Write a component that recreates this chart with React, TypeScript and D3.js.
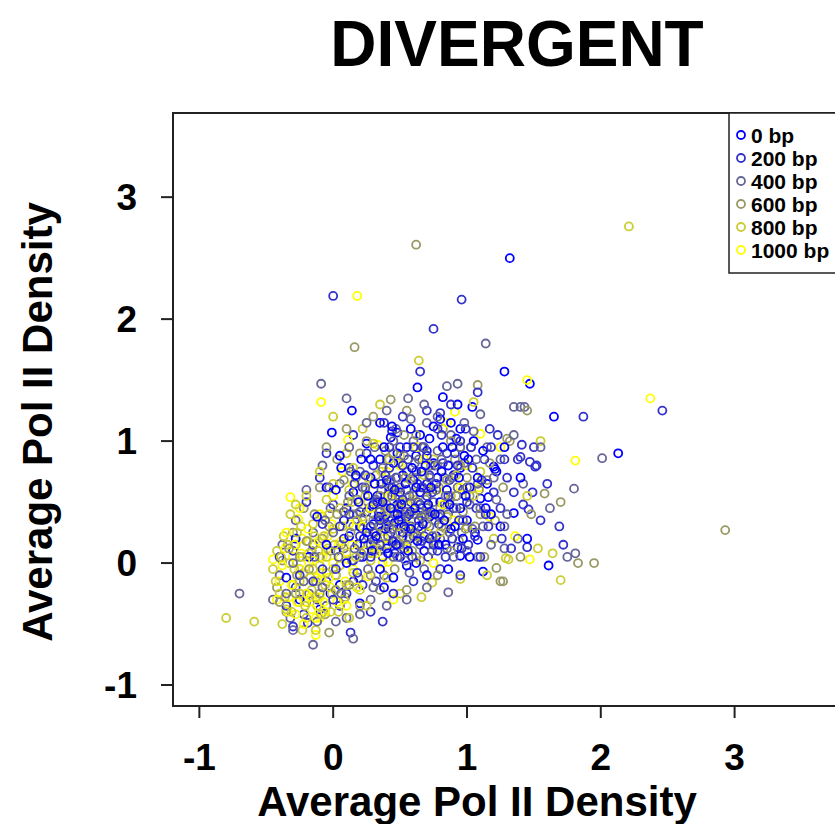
import React from "react";
import * as d3 from "d3";

const seriesLabels = ["0 bp", "200 bp", "400 bp", "600 bp", "800 bp", "1000 bp"];
const seriesColors = ["#0000FF", "#3333CC", "#666699", "#999966", "#CCCC33", "#FFFF00"];
const xTicks = [-1, 0, 1, 2, 3];
const yTicks = [-1, 0, 1, 2, 3];

const bp0: [number, number][] = [
  [1.32,2.50],[1.28,1.57],[1.47,1.47],[1.65,1.20],[0.14,1.25],[-0.01,1.07],[2.13,0.90],[0.63,1.44],[0.82,1.36],[0.93,1.30],
  [1.04,1.28],[0.43,1.03],[0.48,1.07],[1.21,0.77],[1.35,0.41],[1.61,-0.02],[1.12,-0.07],[0.95,0.78],[1.20,0.79],[1.22,0.75],
  [0.85,0.38],[1.06,0.25],[1.08,0.19],[0.93,0.13],[0.95,0.06],[1.16,0.54],[1.10,0.53],[0.35,1.15],[0.25,0.98],[0.05,0.88],
  [-0.05,0.62],[0.10,0.45],[-0.02,-0.25],[-0.10,-0.38],[0.05,-0.18],[-0.25,-0.30],[-0.35,-0.12],[0.20,-0.33],[0.15,-0.15],[-0.18,0.05],
  [-0.28,0.20],[0.02,0.10],[0.20,0.30],[0.25,0.42],[0.30,0.18],[0.33,0.55],[0.38,0.36],[0.40,0.12],[0.42,0.62],[0.45,0.28],
  [0.48,0.48],[0.50,0.05],[0.52,0.72],[0.55,0.38],[0.57,0.20],[0.60,0.55],[0.62,0.88],[0.64,0.30],[0.66,0.45],[0.68,0.10],
  [0.70,0.65],[0.72,0.38],[0.75,0.82],[0.77,0.22],[0.80,0.50],[0.82,0.95],[0.85,0.60],[0.88,0.28],[0.90,0.72],[0.92,1.02],
  [0.95,0.45],[0.98,0.88],[1.00,0.35],[1.02,0.62],[0.28,0.70],[0.35,0.85],[0.15,0.58],[0.18,0.15],[0.22,0.05],[0.35,-0.05],
  [0.45,-0.12],[0.55,-0.02],[0.62,0.00],[0.30,0.32],[0.40,0.40],[0.46,0.33],[0.52,0.25],[0.58,0.42],[0.36,0.26],[0.44,0.18],
  [0.50,0.58],[0.60,0.68],[0.70,0.92],[0.78,0.70],[0.86,0.80],[0.65,1.05],[0.55,0.95],[0.45,0.82],[0.75,1.12],[0.88,1.15],
  [1.05,1.00],[1.12,0.92],[1.15,0.65],[1.18,0.40],[1.25,0.30],[1.28,0.95],[1.40,0.70],[1.45,0.20],[0.25,0.25],[0.12,0.22],
  [0.08,0.35],[0.30,0.48],[0.40,0.68],[0.48,0.90],[0.66,0.75],[0.72,0.20],[0.84,0.15],[0.92,0.55],
  [0.32,0.22],[0.34,0.38],[0.37,0.50],[0.39,0.28],[0.41,0.08],[0.43,0.45],[0.46,0.60],[0.47,0.15],[0.49,0.35],[0.51,0.48],
  [0.53,0.30],[0.54,0.65],[0.56,0.10],[0.58,0.28],[0.59,0.78],[0.61,0.45],[0.63,0.18],[0.65,0.58],[0.67,0.32],[0.69,0.80],
  [0.71,0.48],[0.73,0.62],[0.76,0.40],[0.79,0.15],[0.81,0.75],[0.83,0.35],[0.87,0.48],[0.89,0.95],[0.91,0.30],[0.94,0.70],
  [0.97,0.20],[0.99,0.55],[1.01,0.85],[0.26,0.55],[0.29,0.10],[0.31,0.65],[0.23,0.20],[0.19,0.50],[0.17,0.72],[0.21,0.85],
  [0.38,0.95],[0.44,1.12],[0.58,1.10],[0.72,1.02],[0.80,1.18],[0.95,1.10],[1.08,0.70],[1.14,0.45],[1.02,0.05],[0.86,-0.05],
  [0.70,-0.10],[0.38,-0.20],[0.10,0.00],[-0.05,0.15],[-0.12,0.38],[0.02,0.60],[0.06,0.78],[0.28,0.85],[0.48,0.40],[0.62,0.62]
];

const bp200: [number, number][] = [
  [0.00,2.19],[0.96,2.16],[0.75,1.92],[0.65,1.57],[0.80,1.23],[0.44,1.08],[1.87,1.20],[2.46,1.25],[1.17,1.10],[1.41,0.97],
  [1.50,0.95],[1.38,0.85],[1.47,0.83],[1.52,0.80],[1.42,0.48],[1.46,0.44],[1.69,0.30],[1.45,0.13],[1.35,0.58],[1.49,0.58],
  [1.40,0.87],[1.51,0.79],[0.13,-0.57],[0.37,-0.48],[-0.30,-0.52],[-0.19,-0.49],[0.15,1.05],[-0.05,0.90],[0.12,0.78],
  [-0.35,-0.35],[-0.28,-0.20],[-0.22,-0.42],[-0.12,-0.30],[-0.05,-0.15],[0.05,-0.35],[0.10,-0.25],[0.22,-0.18],[0.28,-0.40],
  [-0.40,0.05],[-0.30,0.10],[-0.15,0.15],[-0.08,0.32],[0.00,0.48],[-0.20,0.50],[-0.10,0.70],
  [0.18,0.40],[0.22,0.62],[0.26,0.15],[0.30,0.80],[0.34,0.42],[0.37,0.05],[0.41,0.55],[0.43,0.25],[0.47,0.70],[0.50,0.38],
  [0.53,0.12],[0.56,0.85],[0.58,0.50],[0.61,0.25],[0.63,0.65],[0.67,0.95],[0.69,0.40],[0.71,0.05],[0.74,0.58],[0.76,0.80],
  [0.79,0.32],[0.81,1.05],[0.83,0.48],[0.87,0.68],[0.89,0.20],[0.91,0.90],[0.94,0.35],[0.97,0.60],[0.99,1.10],[1.01,0.15],
  [1.04,0.78],[1.07,0.45],[1.10,0.05],[1.13,0.85],[1.16,0.30],[1.20,0.58],[1.23,1.05],[1.26,0.20],[1.30,0.70],[1.33,0.12],
  [0.95,-0.10],[0.80,-0.05],[0.60,-0.15],[0.45,-0.25],[0.32,-0.15],[0.15,0.02],[0.08,0.20],[0.25,0.90],[0.38,1.15],[0.52,1.20],
  [0.70,1.25],[0.88,1.30],[1.08,1.40],[0.20,0.05],[0.28,0.30],[0.36,0.65],[0.48,0.15],[0.55,0.60],[0.64,0.35],[0.72,0.72],
  [0.85,0.90],[0.78,0.10],[0.66,0.18],[0.50,0.95],[0.42,0.78],[1.55,0.35],[1.60,0.65],[1.72,0.15],
  [0.30,0.25],[0.33,0.50],[0.35,0.15],[0.39,0.72],[0.40,0.32],[0.44,0.62],[0.46,0.08],[0.49,0.45],[0.52,0.80],[0.54,0.28],
  [0.57,0.40],[0.59,0.05],[0.62,0.75],[0.65,0.48],[0.68,0.22],[0.70,0.88],[0.73,0.42],[0.75,0.15],[0.77,0.65],[0.80,0.40],
  [0.82,0.82],[0.84,0.05],[0.86,0.55],[0.90,0.45],[0.93,0.80],[0.96,0.12],[1.00,0.50],[1.03,0.95],[1.06,0.22],[1.11,0.68],
  [1.14,0.40],[1.18,0.95],[0.24,0.72],[0.20,0.22],[0.16,0.65],[0.12,0.40],[0.05,0.30],[0.02,-0.05],[-0.08,-0.05],[-0.15,-0.15],
  [-0.25,-0.10],[0.00,-0.30],[0.18,-0.08],[0.28,0.05],[0.42,0.95],[0.60,0.95],[0.78,1.10],[0.95,1.00],[1.25,0.45],[1.28,0.85],
  [0.35,0.35],[0.52,0.52],[0.66,0.62],[0.45,0.18],[0.70,0.55]
];

const bp400: [number, number][] = [
  [1.14,1.80],[-0.09,1.47],[1.28,0.12],[0.86,-0.24],[1.81,0.08],[1.08,0.05],[1.35,1.28],[1.40,1.28],[1.43,1.28],[0.93,1.47],
  [0.85,1.45],[-0.70,-0.25],[-0.15,-0.67],[1.80,0.61],[2.01,0.86],
  [-0.45,-0.30],[-0.40,-0.10],[-0.38,0.15],[-0.32,-0.45],[-0.28,0.35],[-0.25,-0.05],[-0.20,0.60],[-0.18,-0.25],[-0.15,0.25],
  [-0.12,-0.48],[-0.10,0.05],[-0.08,0.80],[-0.05,-0.35],[-0.02,0.45],[0.02,-0.10],[0.05,0.65],[0.08,0.12],[0.10,-0.45],
  [0.12,0.95],[0.15,0.30],[0.18,-0.20],[0.20,0.75],[0.23,0.10],[0.26,0.50],[0.28,-0.30],[0.31,0.95],[0.33,0.20],[0.36,0.60],
  [0.38,-0.10],[0.40,0.85],[0.42,0.35],[0.45,0.05],[0.47,1.10],[0.50,0.50],[0.52,0.22],[0.55,0.75],[0.57,-0.08],[0.60,1.00],
  [0.62,0.40],[0.65,0.15],[0.67,0.62],[0.70,1.15],[0.72,0.30],[0.75,0.50],[0.78,0.92],[0.80,0.20],[0.83,0.70],[0.86,0.40],
  [0.88,1.05],[0.90,0.05],[0.93,0.62],[0.96,0.25],[0.98,0.82],[1.02,0.48],[1.05,1.08],[1.08,0.65],[1.12,0.30],[1.15,0.95],
  [1.18,0.15],[1.22,0.52],[1.25,0.85],[1.30,0.40],[1.35,1.05],[1.38,0.20],[1.42,0.65],[1.55,0.95],[1.62,0.45],[1.75,0.05],
  [0.30,0.40],[0.44,0.55],[0.58,0.30],[0.64,0.85],[0.48,0.70],[0.35,0.10],[0.22,0.35],[0.12,0.55],[0.00,0.25],[0.26,-0.05],
  [0.54,0.02],[0.68,-0.05],[0.74,0.10],[0.85,0.12],[1.00,0.10],[0.40,1.25],[0.25,1.15],[0.10,1.35],[0.68,1.30],[0.56,1.35],
  [1.10,1.22],[0.02,-0.48],[0.20,-0.42],[-0.30,-0.55],[0.40,-0.35],[0.55,-0.30],[0.70,-0.20],[0.15,-0.62],
  [0.28,0.15],[0.32,0.52],[0.34,0.30],[0.37,0.78],[0.39,0.45],[0.41,0.22],[0.43,0.68],[0.46,0.40],[0.48,0.05],[0.50,0.62],
  [0.51,0.35],[0.53,0.88],[0.55,0.15],[0.57,0.55],[0.60,0.22],[0.61,0.82],[0.63,0.50],[0.66,0.28],[0.68,0.95],[0.70,0.45],
  [0.72,0.70],[0.74,0.22],[0.77,0.60],[0.79,0.38],[0.81,0.85],[0.84,0.55],[0.87,0.25],[0.89,0.70],[0.92,0.45],[0.95,0.95],
  [0.97,0.35],[1.00,0.62],[1.04,0.28],[1.07,0.85],[1.10,0.45],[1.20,0.70],[1.28,0.30],[0.24,0.62],[0.20,0.42],[0.16,0.12],
  [0.13,0.75],[0.08,0.42],[0.04,0.05],[-0.03,0.62],[-0.06,0.35],[-0.14,0.05],[-0.22,-0.15],[-0.30,0.00],[-0.35,-0.25],[-0.08,-0.20],
  [0.06,-0.25],[0.30,-0.20],[0.45,1.00],[0.58,1.18],[0.78,1.20],[0.98,1.15],[0.35,0.42],[0.55,0.42],[0.66,0.38],[0.44,0.28]
];

const bp600: [number, number][] = [
  [0.62,2.61],[0.16,1.77],[1.08,1.46],[1.30,1.02],[1.58,0.57],[1.83,0.00],[1.95,0.00],[1.25,-0.15],[1.27,-0.15],[1.22,-0.04],
  [2.93,0.27],[-0.03,-0.57],
  [-0.42,-0.20],[-0.38,0.02],[-0.35,-0.40],[-0.30,0.25],[-0.27,-0.10],[-0.22,0.45],[-0.20,-0.32],[-0.16,0.10],[-0.13,-0.15],
  [-0.10,0.62],[-0.06,-0.42],[-0.03,0.30],[0.00,-0.05],[0.03,0.85],[0.06,0.15],[0.09,-0.28],[0.11,0.50],[0.14,0.02],[0.17,0.70],
  [0.19,-0.12],[0.22,0.28],[0.25,1.00],[0.27,0.45],[0.29,0.08],[0.32,0.72],[0.35,-0.22],[0.37,0.38],[0.39,0.92],[0.41,0.15],
  [0.44,0.58],[0.46,-0.05],[0.49,0.82],[0.51,0.30],[0.53,1.05],[0.56,0.48],[0.59,0.10],[0.61,0.70],[0.63,0.22],[0.66,0.95],
  [0.69,0.52],[0.71,0.15],[0.73,0.80],[0.76,0.35],[0.79,0.62],[0.82,1.10],[0.84,0.28],[0.87,0.52],[0.91,0.85],[0.94,0.18],
  [0.97,0.42],[1.00,0.70],[1.03,0.95],[1.06,0.30],[1.09,0.60],[1.13,0.05],[1.17,0.82],[1.21,0.35],[1.27,0.62],[1.32,1.00],
  [1.45,1.25],[1.40,0.05],[1.48,0.40],[1.70,0.50],[0.43,1.34],[0.55,1.25],[0.30,1.20],[0.10,1.10],[-0.05,0.95],[0.40,0.48],
  [0.60,0.40],[0.50,0.15],[0.70,0.32],[0.80,0.45],[0.35,0.55],[0.26,0.22],[0.15,0.40],[0.05,0.05],[-0.08,0.20],[-0.18,-0.05],
  [-0.25,0.05],[0.20,-0.35],[0.55,-0.22],[0.78,-0.10],
  [0.30,0.35],[0.33,0.12],[0.36,0.48],[0.38,0.22],[0.40,0.65],[0.42,0.30],[0.45,0.42],[0.47,0.18],[0.49,0.55],[0.52,0.40],
  [0.54,0.70],[0.57,0.28],[0.60,0.55],[0.62,0.05],[0.64,0.42],[0.67,0.75],[0.70,0.60],[0.72,0.40],[0.75,0.18],[0.78,0.80],
  [0.81,0.30],[0.85,0.68],[0.88,0.10],[0.92,0.55],[0.95,0.80],[0.99,0.28],[1.02,0.55],[1.10,0.40],[1.15,0.68],[0.24,0.60],
  [0.21,0.08],[0.18,0.52],[0.13,0.25],[0.08,0.68],[0.03,0.40],[-0.02,0.10],[-0.10,-0.25],[-0.14,0.40],[-0.20,0.18],[-0.28,-0.25],
  [-0.33,0.12],[-0.40,-0.32],[0.02,-0.22],[0.12,-0.18],[0.28,-0.10],[0.20,0.90],[0.45,0.90],[0.62,1.05],[0.88,1.00],[0.35,0.30],
  [0.50,0.25],[0.58,0.68]
];

const bp800: [number, number][] = [
  [2.21,2.76],[0.64,1.66],[1.53,0.12],[1.64,0.08],[1.70,-0.14],[1.29,0.04],[1.31,0.03],[0.95,-0.13],[0.74,-0.16],[0.66,-0.28],
  [0.50,-0.25],[-0.80,-0.45],[-0.59,-0.48],[-0.23,-0.55],[-0.13,-0.55],[0.00,1.20],[0.10,0.90],[0.22,1.10],[0.35,1.30],
  [1.55,1.00],[1.05,1.32],
  [-0.45,-0.05],[-0.42,0.10],[-0.40,-0.25],[-0.37,0.22],[-0.35,-0.38],[-0.33,0.00],[-0.30,-0.18],[-0.28,0.15],[-0.26,-0.32],
  [-0.24,0.30],[-0.22,-0.08],[-0.20,-0.45],[-0.18,0.08],[-0.16,-0.22],[-0.14,0.22],[-0.12,-0.35],[-0.10,-0.02],[-0.08,0.38],
  [-0.06,-0.18],[-0.04,0.12],[-0.02,-0.40],[0.00,0.28],[0.02,-0.10],[0.05,0.45],[0.08,-0.30],[0.10,0.08],[0.12,0.60],
  [0.15,-0.08],[0.18,0.35],[0.20,-0.22],[0.24,0.55],[0.28,0.02],[0.32,0.25],[0.36,0.75],[0.40,-0.12],[0.45,0.45],[0.50,0.88],
  [0.55,0.20],[0.60,0.58],[0.65,0.02],[0.70,0.42],[0.75,0.85],[0.80,0.25],[0.88,0.55],[0.95,0.95],[1.00,0.30],[1.10,0.75],
  [1.20,0.20],[-0.32,0.40],[-0.20,0.55],[-0.10,0.75],[0.00,0.65],[0.30,0.98],[0.25,-0.35],[-0.38,-0.50],[0.12,-0.45],
  [0.40,0.15],[0.48,0.60],[0.58,0.35],[0.68,0.72],[0.33,0.50],[0.20,0.15],[-0.25,-0.15],[-0.15,-0.05],[-0.05,0.05],[0.05,-0.02],
  [1.45,0.55],[1.15,-0.10],
  [-0.43,-0.15],[-0.39,0.05],[-0.36,-0.28],[-0.34,0.15],[-0.31,-0.40],[-0.29,-0.05],[-0.27,0.25],[-0.25,-0.25],[-0.23,0.05],
  [-0.21,-0.35],[-0.19,0.18],[-0.17,-0.12],[-0.15,0.32],[-0.13,-0.28],[-0.11,0.10],[-0.09,-0.42],[-0.07,0.22],[-0.05,-0.08],
  [-0.03,0.40],[-0.01,-0.25],[0.01,0.15],[0.04,-0.40],[0.07,0.30],[0.10,-0.18],[0.14,0.50],[0.17,0.05],[0.22,0.38],[0.26,0.70],
  [0.30,0.12],[0.38,0.40],[0.42,0.85],[0.52,0.50],[0.62,0.22],[0.72,0.60],[0.85,0.38],[0.92,0.72],[1.05,0.55],[0.15,0.78],
  [-0.05,0.52],[-0.28,0.48]
];

const bp1000: [number, number][] = [
  [0.18,2.19],[-0.09,1.32],[1.81,0.84],[2.37,1.35],[1.10,1.06],[0.91,1.24],[1.09,0.62],[1.17,0.38],[1.36,0.22],[1.47,0.03],
  [-0.13,-0.59],[-0.10,-0.45],[-0.45,0.03],[-0.32,0.54],[-0.26,0.36],[0.56,0.31],[0.67,0.39],[0.37,0.00],[0.41,0.01],
  [0.26,-0.11],[-0.21,-0.32],[-0.10,-0.14],[-0.34,-0.40],[0.04,0.15],[0.11,0.03],[0.33,0.97],[0.07,0.75],[0.11,1.01],
  [-0.40,-0.15],[-0.36,0.12],[-0.33,-0.28],[-0.30,0.05],[-0.28,-0.42],[-0.25,-0.05],[-0.23,0.20],[-0.20,-0.25],[-0.18,0.00],
  [-0.16,-0.38],[-0.14,0.15],[-0.12,-0.12],[-0.10,-0.28],[-0.08,0.05],[-0.06,-0.40],[-0.04,0.22],[-0.02,-0.20],[0.00,0.00],
  [0.03,-0.32],[0.06,0.18],[0.09,-0.15],[0.12,0.32],[0.15,-0.05],[0.20,0.50],[0.25,0.10],[0.30,0.65],[0.35,0.30],[0.42,0.55],
  [0.50,0.80],[0.55,0.12],[0.62,0.95],[0.70,0.25],[0.78,0.60],[0.85,1.15],[0.90,0.35],[1.00,0.80],[1.25,0.95],[1.45,1.50],
  [0.75,0.00],[0.45,-0.30],[-0.22,-0.50],[0.00,0.55],[-0.10,0.40],
  [-0.42,-0.30],[-0.38,-0.02],[-0.35,0.25],[-0.31,-0.18],[-0.29,0.15],[-0.27,-0.32],[-0.24,0.08],[-0.22,-0.15],[-0.19,0.28],
  [-0.17,-0.28],[-0.15,0.02],[-0.13,-0.45],[-0.11,0.18],[-0.09,-0.08],[-0.07,-0.32],[-0.05,0.10],[-0.03,-0.12],[-0.01,0.32],
  [0.02,-0.22],[0.05,0.05],[0.08,0.42],[0.10,-0.35],[0.14,0.15],[0.18,-0.20],[0.22,0.30],[0.28,0.45],[0.32,0.08],[0.40,0.75],
  [0.48,0.30],[0.60,0.50],[0.68,0.85],[0.82,0.48],[0.95,0.62],[-0.25,0.45],[0.15,0.65],[0.38,0.20]
];

const seriesData = [bp0, bp200, bp400, bp600, bp800, bp1000];

const W = 835;
const H = 824;
const plotLeft = 173;
const plotTop = 113;
const plotBottom = 706;
const plotRight = 851;

export default function App() {
  const x = d3.scaleLinear().domain([-1.197, 3.87]).range([plotLeft, plotRight]);
  const y = d3.scaleLinear().domain([-1.172, 3.69]).range([plotBottom, plotTop]);
  const font = "'Liberation Sans', Arial, Helvetica, sans-serif";

  // interleave drawing order across series so colours mix as in the original
  const maxLen = d3.max(seriesData, (s) => s.length) || 0;
  const ordered: { s: number; i: number; p: [number, number] }[] = [];
  for (let i = 0; i < maxLen; i++) {
    for (let s = 0; s < seriesData.length; s++) {
      const p = seriesData[s][i];
      if (p) ordered.push({ s, i, p });
    }
  }

  const legendLeft = 729;
  const legendTop = 113;
  const rowH = 23;

  return (
    <svg
      width={W}
      height={H}
      viewBox={`0 0 ${W} ${H}`}
      style={{ position: "absolute", left: 0, top: 0, background: "#fff" }}
      fontFamily={font}
    >
      <rect x={0} y={0} width={W} height={H} fill="#fff" />
      <text x={517} y={66} textAnchor="middle" fontSize={64} fontWeight="bold" fill="#000">
        DIVERGENT
      </text>

      <g>
        {ordered.map((d) => (
          <circle
            key={`${d.s}-${d.i}`}
            cx={x(d.p[0])}
            cy={y(d.p[1])}
            r={4}
            fill="none"
            stroke={seriesColors[d.s]}
            strokeWidth={1.8}
          />
        ))}
      </g>

      <rect
        x={plotLeft}
        y={plotTop}
        width={plotRight - plotLeft}
        height={plotBottom - plotTop}
        fill="none"
        stroke="#222"
        strokeWidth={2}
      />

      {xTicks.map((t) => (
        <g key={`xt${t}`}>
          <line x1={x(t)} x2={x(t)} y1={plotBottom} y2={plotBottom + 12} stroke="#222" strokeWidth={2} />
          <text x={x(t)} y={770} textAnchor="middle" fontSize={37} fontWeight="bold" fill="#000">
            {t}
          </text>
        </g>
      ))}

      {yTicks.map((t) => (
        <g key={`yt${t}`}>
          <line x1={plotLeft} x2={plotLeft - 12} y1={y(t)} y2={y(t)} stroke="#222" strokeWidth={2} />
          <text x={137} y={y(t) + 13} textAnchor="end" fontSize={37} fontWeight="bold" fill="#000">
            {t}
          </text>
        </g>
      ))}

      <text x={477} y={816} textAnchor="middle" fontSize={42} fontWeight="bold" fill="#000">
        Average Pol II Density
      </text>
      <text
        transform={`translate(52,422) rotate(-90)`}
        textAnchor="middle"
        fontSize={42}
        fontWeight="bold"
        fill="#000"
      >
        Average Pol II Density
      </text>

      <rect
        x={legendLeft}
        y={legendTop}
        width={W + 10 - legendLeft}
        height={160}
        fill="#fff"
        stroke="#222"
        strokeWidth={1.5}
      />
      {seriesLabels.map((lab, i) => (
        <g key={lab}>
          <circle
            cx={741}
            cy={135 + i * rowH}
            r={4}
            fill="none"
            stroke={seriesColors[i]}
            strokeWidth={1.8}
          />
          <text x={751} y={135 + i * rowH + 7.5} fontSize={21} fontWeight="bold" fill="#000">
            {lab}
          </text>
        </g>
      ))}
    </svg>
  );
}
